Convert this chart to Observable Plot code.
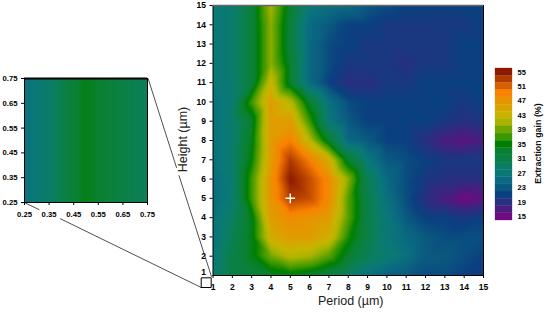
<!DOCTYPE html>
<html>
<head>
<meta charset="utf-8">
<script src="https://cdn.jsdelivr.net/npm/d3@7"></script>
<script src="https://cdn.jsdelivr.net/npm/@observablehq/plot@0.6"></script>
<style>
html,body{margin:0;padding:0;background:#fff}
#chart{position:relative;width:545px;height:313px;overflow:hidden}
#chart svg{position:absolute;overflow:visible}
</style>
</head>
<body>
<div id="chart"></div>
<script>
const periods = [1,2,3,4,5,6,7,8,9,10,11,12,13,14,15];
const heights = [15,14,13,12,11,10,9,8,7,6,5,4,3,2,1];
const h15 = [27,28,32,41,33,27,26,25,23,22,21,21,21,21,21];
const h14 = [27,28,32,40,32,25,23,21,21,20,20,20,20,20,21];
const h13 = [27,28,32,40,32,25,22,21,20,20,20,20,20,21,21];
const h12 = [27,28,32,40,33,25,22,20,20,20,19,20,20,21,21];
const h11 = [27,28,32,43,33,25,21,19,19,20,20,21,21,21,21];
const h10 = [26,28,37,46,42,33,26,22,21,21,21,21,21,20,21];
const h9  = [26,28,33,46,46,37,27,23,21,21,21,21,20,19,20];
const h8  = [26,28,34,46,49,42,33,25,23,21,21,19,17,16,17];
const h7  = [26,28,35,46,53,49,44,33,27,23,22,21,20,20,20];
const h6  = [25,28,37,47,55,52,48,40,30,25,22,20,19,19,19];
const h5  = [25,28,37,47,53,52,48,38,31,26,22,19,17,15,16];
const h4  = [26,29,34,46,48,47,46,38,31,27,23,21,21,20,21];
const h3  = [26,30,34,44,46,46,44,36,31,27,25,23,22,22,22];
const h2  = [27,31,34,39,42,41,38,33,30,28,26,23,23,22,21];
const h1  = [28,31,32,33,34,33,31,29,26,24,23,22,22,21,20];
const gainRows = [h15,h14,h13,h12,h11,h10,h9,h8,h7,h6,h5,h4,h3,h2,h1];

const insetX = [0.25,0.35,0.45,0.5,0.55,0.65,0.75];
const insetY = [0.25,0.75];
const insetGain = [26,28.5,32.5,34,33,31,29.5];
const insetTicks = [0.25,0.35,0.45,0.55,0.65,0.75];

const legendValues = [55,53,51,49,47,45,43,41,39,37,35,33,31,29,27,25,23,21,19,17,15];
const legendColors = ["#8c1a00","#b03c00","#d85e00","#fa8200","#e89400","#d8a400","#c8b400","#a8b400","#70a600","#3c9800","#008000","#0a8030","#0a8046","#0a7e62","#0a7878","#0a6a80","#0a5a80","#0a4080","#283080","#481e80","#700a80"];
const legendTicks = [55,51,47,43,39,35,31,27,23,19,15];

const majorTicks = periods;
const connectorA = [[-2.354,11.2],[-0.889,6.6]];
const connectorB = [[-0.76,6.18],[0.92,0.95]];
const connectorC = [[-8.757,4.78],[-8.006,4.42]];
const connectorD = [[-6.893,3.94],[0.39,0.378]];
const zoomBoxX = [0.39,0.907];
const zoomBoxY = [0.378,0.88];
const crossPoint = [{p:5,h:5}];

const font = "'Liberation Sans', Arial, sans-serif";
const colorOpts = {type:"linear", domain:[...legendValues].reverse(), range:[...legendColors].reverse(), interpolate:"rgb"};
const points = gainRows.flatMap((row,i)=>row.map((g,j)=>({p:periods[j],h:heights[i],g})));
const seg = s => Plot.line(s,{x:d=>d[0],y:d=>d[1],stroke:"#222",strokeWidth:0.8,clip:false});

const main = Plot.plot({
  width:545,height:313,marginLeft:212.5,marginRight:62,marginTop:5,marginBottom:38,
  style:{fontFamily:font,background:"transparent",position:"absolute",left:"0",top:"0"},
  x:{domain:[1,15],label:null},
  y:{domain:[1,15],label:null},
  color:colorOpts,
  marks:[
    Plot.raster(points,{x:"p",y:"h",fill:"g",interpolate:"barycentric",pixelSize:1}),
    Plot.axisX({ticks:majorTicks,tickFormat:d=>d,tickSize:3,tickPadding:5,fontSize:8.5,fontWeight:"bold",stroke:"#000",label:null}),
    Plot.axisY({ticks:heights.filter(d=>d>1),tickFormat:d=>d,tickSize:3,tickPadding:4,fontSize:8.5,fontWeight:"bold",stroke:"#000",label:null}),
    Plot.axisY({ticks:[1],tickFormat:d=>d,tickSize:0,tickPadding:7,dy:-3,fontSize:8.5,fontWeight:"bold",label:null}),
    Plot.ruleX([1,15],{stroke:"#000",strokeWidth:1}),
    Plot.ruleY([1],{stroke:"#000",strokeWidth:1}),
    Plot.ruleY([15],{stroke:"#666",strokeWidth:1.5}),
    Plot.dot(crossPoint,{x:"p",y:"h",symbol:"plus",r:3.2,stroke:"#fff",strokeWidth:1.5}),
    Plot.text(["Period (µm)"],{frameAnchor:"bottom",dx:2.5,dy:29,fontSize:12.5,fill:"#222"}),
    Plot.text(["Height (µm)"],{frameAnchor:"left",textAnchor:"middle",dx:-30,dy:-1,rotate:-90,fontSize:12.5,fill:"#222"}),
    seg(connectorA),seg(connectorB),seg(connectorC),seg(connectorD),
    Plot.line([[zoomBoxX[0],zoomBoxY[0]],[zoomBoxX[1],zoomBoxY[0]],[zoomBoxX[1],zoomBoxY[1]],[zoomBoxX[0],zoomBoxY[1]],[zoomBoxX[0],zoomBoxY[0]]],{x:d=>d[0],y:d=>d[1],stroke:"#000",strokeWidth:1,clip:false})
  ]
});

const insetPoints = insetY.flatMap(h=>insetX.map((p,j)=>({p,h,g:insetGain[j]})));
const inset = Plot.plot({
  width:147,height:220,marginLeft:24,marginRight:0,marginTop:78,marginBottom:18,
  style:{fontFamily:font,background:"transparent",position:"absolute",left:"0",top:"0"},
  x:{domain:[0.25,0.75],label:null},
  y:{domain:[0.25,0.75],label:null},
  color:colorOpts,
  marks:[
    Plot.raster(insetPoints,{x:"p",y:"h",fill:"g",interpolate:"barycentric",pixelSize:1}),
    Plot.axisX({ticks:insetTicks,tickFormat:d3.format(".2f"),tickSize:3,tickPadding:6,fontSize:7.7,fontWeight:"bold",stroke:"#000",label:null}),
    Plot.axisY({ticks:insetTicks,tickFormat:d3.format(".2f"),tickSize:3,tickPadding:4,fontSize:7.7,fontWeight:"bold",stroke:"#000",label:null}),
    Plot.ruleX([0.25],{stroke:"#000",strokeWidth:1}),
    Plot.ruleX([0.75],{stroke:"#000",strokeWidth:1}),
    Plot.ruleY([0.25],{stroke:"#000",strokeWidth:1}),
    Plot.ruleY([0.75],{stroke:"#000",strokeWidth:2})
  ]
});

const legend = Plot.plot({
  width:50,height:160,marginLeft:0,marginRight:33,marginTop:4,marginBottom:4,
  style:{fontFamily:font,background:"transparent",position:"absolute",left:"495px",top:"64px"},
  x:{domain:[0,1],axis:null},
  y:{domain:[14,56],label:null},
  color:colorOpts,
  marks:[
    Plot.rect(legendValues,{x1:()=>0,x2:()=>1,y1:d=>d-1,y2:d=>d+1,fill:d=>d,stroke:d=>d,strokeWidth:0.3}),
    Plot.axisY({anchor:"right",ticks:legendTicks,tickFormat:d=>d,tickSize:0,tickPadding:5,fontSize:7.5,fontWeight:"bold",label:null}),
    Plot.text(["Extraction gain (%)"],{frameAnchor:"right",textAnchor:"middle",dx:26,dy:-1,rotate:-90,fontSize:8.9,fontWeight:"bold",fill:"#111"})
  ]
});

const chart = document.getElementById("chart");
chart.append(main,inset,legend);
</script>
</body>
</html>
